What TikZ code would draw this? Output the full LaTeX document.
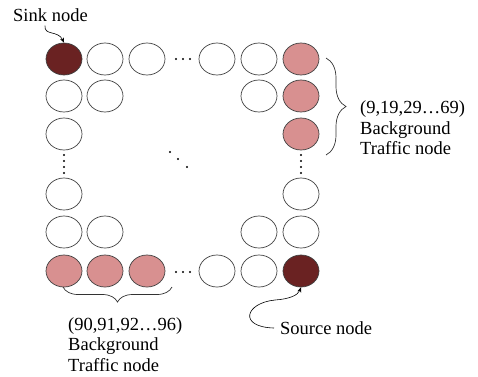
\documentclass[tikz,border=0pt]{standalone}
\usepackage{fontspec}
\setmainfont{Liberation Serif}
\usetikzlibrary{shapes.geometric,decorations.pathreplacing,arrows.meta}
\definecolor{sinkred}{HTML}{6A2222}
\definecolor{trafficpink}{HTML}{D89090}
\begin{document}
\begin{tikzpicture}[x=1pt,y=-1pt,
  sensor/.style={ellipse,draw=black!75,line width=0.7pt,minimum width=36pt,minimum height=32pt,inner sep=0pt},
  endpoint/.style={sensor,fill=sinkred},
  traffic/.style={sensor,fill=trafficpink},
  label/.style={font=\fontsize{18.5}{20.5}\selectfont,inner sep=0pt},
  dot/.style={circle,fill=black,inner sep=0pt,minimum size=2.2pt},
  pointer/.style={line width=0.6pt,-{Stealth[length=5pt,width=4pt]}},
  bracket/.style={line width=0.7pt,draw=black!80,decorate,decoration={brace,amplitude=#1}}]
\useasboundingbox (0,0) rectangle (478,376);
% grid of sensor nodes
\node[endpoint] (n11) at (64,59) {};
\node[sensor]   (n12) at (105,59) {};
\node[sensor]   (n13) at (147,59) {};
\node[sensor]   (n14) at (217,59) {};
\node[sensor]   (n15) at (259,59) {};
\node[traffic]  (n16) at (301,59) {};
\node[sensor]   (n21) at (64,96) {};
\node[sensor]   (n22) at (105,96) {};
\node[sensor]   (n25) at (259,96) {};
\node[traffic]  (n26) at (301,96) {};
\node[sensor]   (n31) at (64,134) {};
\node[traffic]  (n36) at (301,134) {};
\node[sensor]   (n41) at (64,194) {};
\node[sensor]   (n46) at (301,194) {};
\node[sensor]   (n51) at (64,232) {};
\node[sensor]   (n52) at (105,232) {};
\node[sensor]   (n55) at (259,232) {};
\node[sensor]   (n56) at (301,232) {};
\node[traffic]  (n61) at (64,271) {};
\node[traffic]  (n62) at (105,271) {};
\node[traffic]  (n63) at (147,271) {};
\node[sensor]   (n64) at (217,271) {};
\node[sensor]   (n65) at (259,271) {};
\node[endpoint] (n66) at (301,271) {};
% ellipsis dots
\foreach \x in {176,183,190} {\node[dot] at (\x,59) {}; \node[dot] at (\x,272) {};}
\foreach \y in {155,161,167,173} {\node[dot] at (64,\y) {}; \node[dot] at (301,\y) {};}
\foreach \x/\y in {170/152,178/159,187/167} {\node[dot] at (\x,\y) {};}
% labels
\node[label,anchor=west] (sink) at (13,15) {Sink node};
\node[label,anchor=west] (source) at (280,328) {Source node};
\node[label,anchor=west,align=left] (bgright) at (360,128) {(9,19,29\ldots69)\\Background\\Traffic node};
\node[label,anchor=north west,align=left] (bgbottom) at (68,317) {(90,91,92\ldots96)\\Background\\Traffic node};
% braces
\coordinate (rbtop) at (326,58);
\coordinate (rbbot) at (326,155);
\draw[bracket=20pt] (rbtop) -- (rbbot);
\coordinate (bbl) at (63,287);
\coordinate (bbr) at (172,287);
\draw[bracket=15pt] (bbr) -- (bbl);
% pointers to sink and source
\draw[pointer] (sink.south west) ++(32,4) .. controls (44,36) and (58,30) .. (n11.north);
\draw[pointer] (source.west) ++(-6,0) .. controls (238,327) and (245,303) .. (275,300) .. controls (290,299) and (298,295) .. (n66.south);
\end{tikzpicture}
\end{document}
